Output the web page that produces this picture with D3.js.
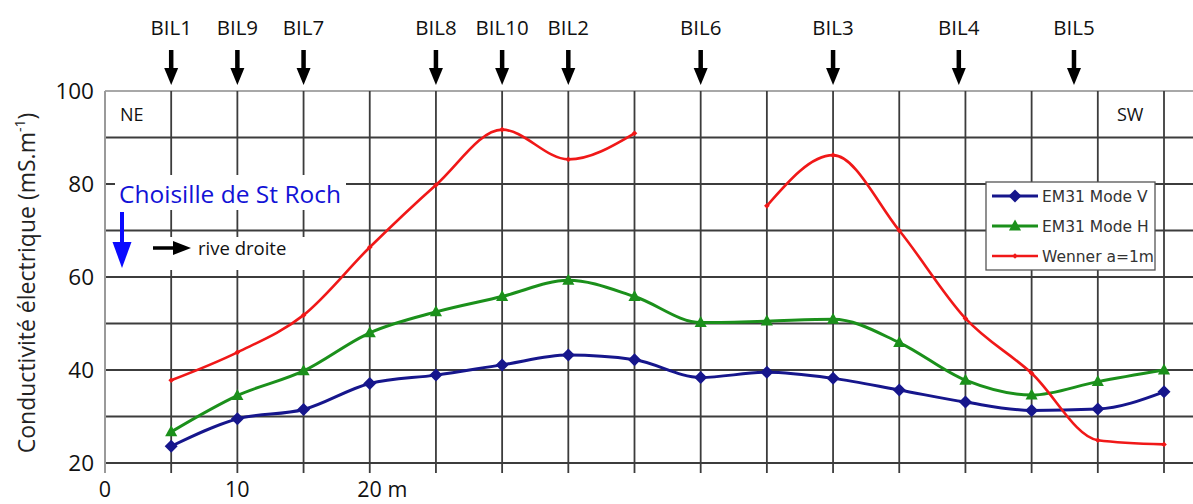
<!DOCTYPE html>
<html>
<head>
<meta charset="utf-8">
<script src="https://cdn.jsdelivr.net/npm/d3@7/dist/d3.min.js"></script>
<style>
  html, body { margin: 0; padding: 0; background: #fff; }
  svg { display: block; }
</style>
</head>
<body>
<svg id="chart" width="1193" height="504"></svg>
<script>
// ---- data ----
const distances = [5, 10, 15, 20, 25, 30, 35, 40, 45, 50, 55, 60, 65, 70, 75, 80];
const em31ModeV = [23.6, 29.5, 31.5, 37.1, 38.9, 41.1, 43.2, 42.2, 38.4, 39.5, 38.2, 35.7, 33.1, 31.3, 31.6, 35.3];
const em31ModeH = [26.7, 34.5, 39.8, 48.0, 52.5, 55.8, 59.3, 55.8, 50.2, 50.5, 50.9, 45.9, 37.8, 34.6, 37.5, 40.0];
const wenner    = [37.8, 43.8, 51.8, 66.4, 79.8, 91.7, 85.3, 90.9, null, 75.3, 86.2, 70.0, 51.1, 39.3, 24.9, 24.0];
const seriesNames = ["EM31 Mode V", "EM31 Mode H", "Wenner a=1m"];
const boreholeNames = ["BIL1", "BIL9", "BIL7", "BIL8", "BIL10", "BIL2", "BIL6", "BIL3", "BIL4", "BIL5"];
const boreholePos   = [5, 10, 15, 25, 30, 35, 45, 55, 64.5, 73.2];
const yTicks = [20, 40, 60, 80, 100];
const yGrid = [20, 30, 40, 50, 60, 70, 80, 90];
const xGrid = [5, 10, 15, 20, 25, 30, 35, 40, 45, 50, 55, 60, 65, 70, 75, 80];
const xTickLabels = [{v: 0, t: "0"}, {v: 10, t: "10"}, {v: 20, t: "20 m"}];

// ---- layout ----
const svg = d3.select("#chart");
const W = 1193;
const plotLeft = 105, plotTop = 91, plotBottom = 463;
const x = d3.scaleLinear().domain([0, 80]).range([plotLeft, 1164]);
const y = d3.scaleLinear().domain([20, 100]).range([plotBottom, plotTop]);
const sans = "'Open Sans', 'Noto Sans', sans-serif";

// grid
const g = svg.append("g");
g.selectAll("line.h").data(yGrid).join("line")
  .attr("x1", plotLeft).attr("x2", W)
  .attr("y1", d => y(d)).attr("y2", d => y(d))
  .attr("stroke", "#3c3c3c").attr("stroke-width", 1.8);
g.append("line").attr("x1", plotLeft).attr("x2", W).attr("y1", y(100)).attr("y2", y(100))
  .attr("stroke", "#a8a8a8").attr("stroke-width", 1.8);
g.selectAll("line.v").data(xGrid).join("line")
  .attr("x1", d => x(d)).attr("x2", d => x(d))
  .attr("y1", plotTop).attr("y2", plotBottom + 10)
  .attr("stroke", "#3c3c3c").attr("stroke-width", 1.8);
g.append("line").attr("x1", plotLeft).attr("x2", plotLeft).attr("y1", plotTop).attr("y2", plotBottom + 10)
  .attr("stroke", "#9a9a9a").attr("stroke-width", 2);

// y tick labels
svg.selectAll("text.yt").data(yTicks).join("text")
  .attr("x", 94).attr("y", d => y(d)).attr("dy", "0.36em")
  .attr("text-anchor", "end").attr("font-family", sans).attr("font-size", 22.5)
  .attr("fill", "#111").text(d => d);

// x tick labels
svg.selectAll("text.xt").data(xTickLabels).join("text")
  .attr("x", d => x(d.v) - (d.t.length > 2 ? 12.5 : 0)).attr("y", 497)
  .attr("text-anchor", d => d.t.length > 2 ? "start" : "middle")
  .attr("font-family", sans).attr("font-size", 21.5).attr("fill", "#111").text(d => d.t);

// y axis title
const yt = svg.append("text")
  .attr("transform", "translate(35,283) rotate(-90)")
  .attr("text-anchor", "middle").attr("font-family", sans).attr("font-size", 23)
  .attr("fill", "#222");
yt.append("tspan").text("Conductivité électrique (mS.m");
yt.append("tspan").attr("font-size", 14).attr("dy", -10).text("-1");
yt.append("tspan").attr("dy", 10).text(")");

// NE / SW
svg.append("text").attr("x", 120).attr("y", 121).attr("font-family", sans)
  .attr("font-size", 18).attr("fill", "#111").text("NE");
svg.append("text").attr("x", 1117).attr("y", 121).attr("font-family", sans)
  .attr("font-size", 18).attr("fill", "#111").text("SW");

// annotation boxes
svg.append("rect").attr("x", 115).attr("y", 175).attr("width", 231).attr("height", 35).attr("fill", "#fff");
svg.append("rect").attr("x", 107).attr("y", 237).attr("width", 203).attr("height", 33).attr("fill", "#fff");
svg.append("text").attr("x", 119).attr("y", 203).attr("font-family", sans)
  .attr("font-size", 24.5).attr("fill", "#1212d6").text("Choisille de St Roch");
// blue down arrow
svg.append("line").attr("x1", 122).attr("x2", 122).attr("y1", 212).attr("y2", 246)
  .attr("stroke", "#0a0aff").attr("stroke-width", 4);
svg.append("path").attr("d", "M112.5,242 L131.5,242 L122,268 Z").attr("fill", "#0a0aff");
// black right arrow
svg.append("line").attr("x1", 153).attr("x2", 176).attr("y1", 248).attr("y2", 248)
  .attr("stroke", "#000").attr("stroke-width", 3.5);
svg.append("path").attr("d", "M173,241 L191,248 L173,255 Z").attr("fill", "#000");
svg.append("text").attr("x", 198).attr("y", 255).attr("font-family", sans)
  .attr("font-size", 18.5).attr("fill", "#111").text("rive droite");

// boreholes
const bh = svg.append("g");
boreholeNames.forEach((n, i) => {
  const bx = x(boreholePos[i]);
  bh.append("text").attr("x", bx).attr("y", 35).attr("text-anchor", "middle")
    .attr("font-family", sans).attr("font-size", 20.5).attr("fill", "#111").text(n);
  bh.append("line").attr("x1", bx).attr("x2", bx).attr("y1", 50).attr("y2", 72)
    .attr("stroke", "#000").attr("stroke-width", 4.5);
  bh.append("path").attr("d", `M${bx - 7},68 L${bx + 7},68 L${bx},85 Z`).attr("fill", "#000");
});

// series
const diamond = r => `M0,${-r}L${r},0L0,${r}L${-r},0Z`;
const triangle = s => `M0,${-s * 0.6}L${s * 0.55},${s * 0.4}L${-s * 0.55},${s * 0.4}Z`;
const series = [
  {name: seriesNames[0], vals: em31ModeV, color: "#16168c", width: 3, marker: diamond(6.5)},
  {name: seriesNames[1], vals: em31ModeH, color: "#1b901b", width: 3, marker: triangle(11)},
  {name: seriesNames[2], vals: wenner, color: "#f01818", width: 2.6, marker: diamond(2.8)}
];
const line = d3.line()
  .defined(d => d[1] != null)
  .x(d => x(d[0])).y(d => y(d[1]))
  .curve(d3.curveMonotoneX);

series.forEach(s => {
  const pts = distances.map((d, i) => [d, s.vals[i]]);
  svg.append("path").datum(pts).attr("d", line)
    .attr("fill", "none").attr("stroke", s.color).attr("stroke-width", s.width)
    .attr("stroke-linejoin", "round");
  svg.append("g").selectAll("path").data(pts.filter(p => p[1] != null)).join("path")
    .attr("transform", p => `translate(${x(p[0])},${y(p[1])})`)
    .attr("d", s.marker).attr("fill", s.color);
});

// legend
const lg = svg.append("g");
lg.append("rect").attr("x", 986).attr("y", 182).attr("width", 169).attr("height", 88)
  .attr("fill", "#fff").attr("stroke", "#555").attr("stroke-width", 1.3);
series.forEach((s, i) => {
  const ly = 196 + i * 30;
  lg.append("line").attr("x1", 992).attr("x2", 1038).attr("y1", ly).attr("y2", ly)
    .attr("stroke", s.color).attr("stroke-width", s.width);
  lg.append("path").attr("transform", `translate(1015,${ly})`).attr("d", s.marker).attr("fill", s.color);
  lg.append("text").attr("x", 1042).attr("y", ly).attr("dy", "0.36em")
    .attr("font-family", "'DejaVu Sans', sans-serif").attr("font-size", 15.5)
    .attr("fill", "#333").text(s.name);
});
</script>
</body>
</html>
